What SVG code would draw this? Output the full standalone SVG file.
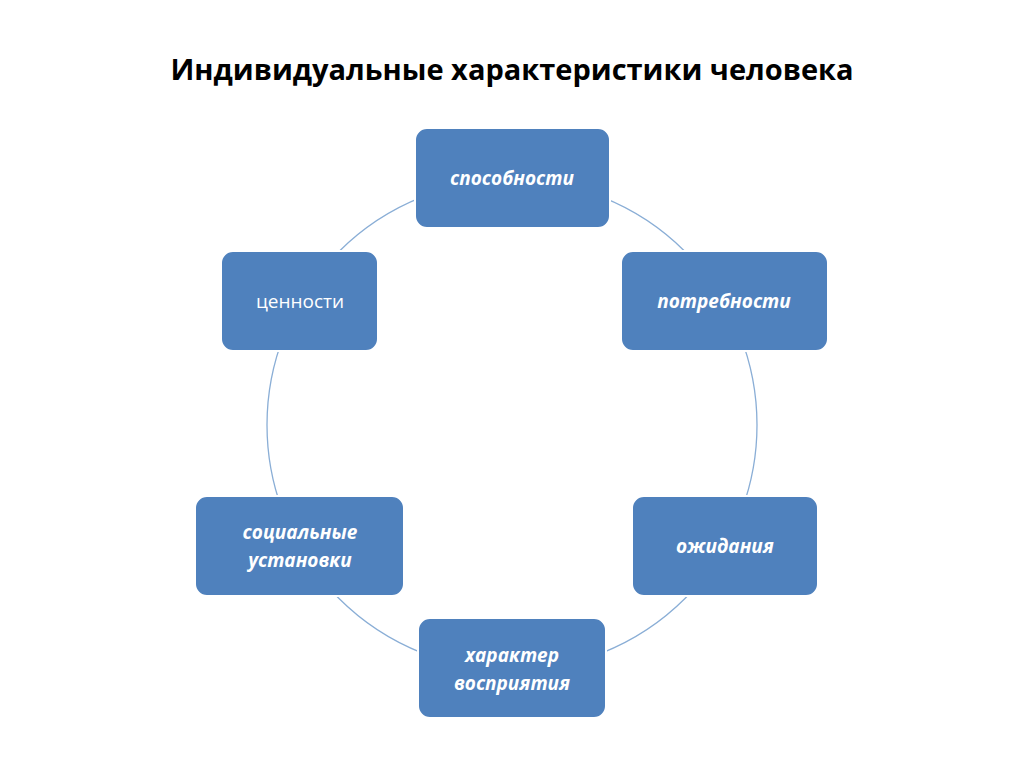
<svg xmlns="http://www.w3.org/2000/svg" width="1024" height="767" viewBox="0 0 1024 767">
<style>
.n{fill:#4f81bd;stroke:#ffffff;stroke-width:2}
.t{fill:#fff;font-family:"Open Sans","Liberation Sans",sans-serif;font-size:19px;font-weight:bold;font-style:italic;text-anchor:middle}
.p{font-weight:normal;font-style:normal}
</style>
<rect width="1024" height="767" fill="#fff"/>
<text x="512" y="80" font-family="'Open Sans','Liberation Sans',sans-serif" font-size="29" font-weight="bold" text-anchor="middle" fill="#000">Индивидуальные характеристики человека</text>
<g id="connectors"><circle cx="512" cy="425" r="245" fill="none" stroke="#8aaed6" stroke-width="1.3"/></g>
<g id="n1"><rect class="n" x="415" y="128" width="195" height="100" rx="12"/><text class="t" x="512" y="185">способности</text></g>
<g id="n2"><rect class="n" x="621" y="251" width="207" height="100" rx="12"/><text class="t" x="724" y="308">потребности</text></g>
<g id="n3"><rect class="n" x="632" y="496" width="186" height="100" rx="12"/><text class="t" x="725" y="553">ожидания</text></g>
<g id="n4"><rect class="n" x="418" y="618" width="188" height="100" rx="12"/><text class="t" x="512" y="662">характер</text><text class="t" x="512" y="690">восприятия</text></g>
<g id="n5"><rect class="n" x="195" y="496" width="209" height="100" rx="12"/><text class="t" x="300" y="539">социальные</text><text class="t" x="300" y="567">установки</text></g>
<g id="n6"><rect class="n" x="221" y="251" width="157" height="100" rx="12"/><text class="t p" x="300" y="308">ценности</text></g>
</svg>
